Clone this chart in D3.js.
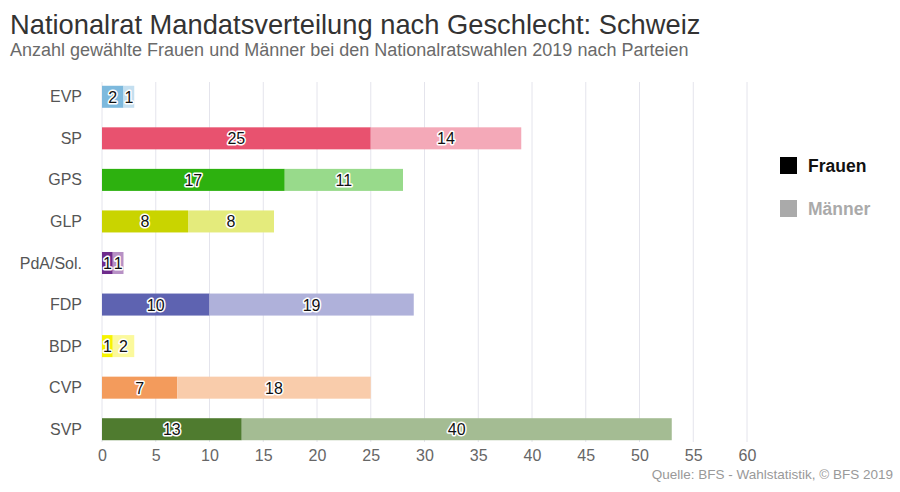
<!DOCTYPE html>
<html><head><meta charset="utf-8">
<script src="https://cdn.jsdelivr.net/npm/d3@7"></script>
<style>body{margin:0;background:#fff;}svg{display:block;font-family:"Liberation Sans",Arial,sans-serif;}</style>
</head><body>
<svg id="c" width="900" height="492"></svg>
<script>
const parties = ["EVP","SP","GPS","GLP","PdA/Sol.","FDP","BDP","CVP","SVP"];
const frauen  = [2,25,17,8,1,10,1,7,13];
const maenner = [1,14,11,8,1,19,2,18,40];
const colorsF = ["#7db9dd","#e8526f","#2db10f","#c9d400","#6e2b8b","#5e63b1","#f6f300","#f39b5c","#4f7b2f"];
const colorsM = ["#c4dff0","#f4a9b8","#98da8b","#e4eb7c","#b791c5","#afb1da","#fbf99c","#f9ccab","#a4bc93"];
const xTicks = [0,5,10,15,20,25,30,35,40,45,50,55,60];
const legendLabels = ["Frauen","Männer"];

const svg = d3.select("#c");
const x = d3.scaleLinear().domain([0,60]).range([102,747]);
const y = d3.scaleBand().domain(parties).range([76,450]).paddingInner(0.47).paddingOuter(0.235);

// title
svg.append("text").attr("x",10).attr("y",34).attr("font-size",27.3).attr("fill","#333")
  .text("Nationalrat Mandatsverteilung nach Geschlecht: Schweiz");
svg.append("text").attr("x",10).attr("y",56).attr("font-size",18).attr("fill","#6a6a6a")
  .text("Anzahl gewählte Frauen und Männer bei den Nationalratswahlen 2019 nach Parteien");

// grid
svg.append("g").selectAll("line").data(xTicks).join("line")
  .attr("x1",d=>x(d)).attr("x2",d=>x(d)).attr("y1",82).attr("y2",442)
  .attr("stroke","#e4e4ec").attr("stroke-width",1);

// bars
const rows = parties.map((p,i)=>({p,f:frauen[i],m:maenner[i],cf:colorsF[i],cm:colorsM[i]}));
const g = svg.append("g");
g.selectAll("rect.f").data(rows).join("rect").attr("class","f")
  .attr("x",x(0)).attr("y",d=>y(d.p)).attr("height",y.bandwidth())
  .attr("width",d=>x(d.f)-x(0)).attr("fill",d=>d.cf);
g.selectAll("rect.m").data(rows).join("rect").attr("class","m")
  .attr("x",d=>x(d.f)).attr("y",d=>y(d.p)).attr("height",y.bandwidth())
  .attr("width",d=>x(d.f+d.m)-x(d.f)).attr("fill",d=>d.cm);

// value labels
const labels = [];
rows.forEach(d=>{
  labels.push({v:d.f,cx:x(d.f/2),p:d.p});
  labels.push({v:d.m,cx:x(d.f+d.m/2),p:d.p});
});
const lab = svg.append("g").attr("font-size",16).attr("text-anchor","middle");
lab.selectAll("text.h").data(labels).join("text").attr("class","h")
  .attr("x",d=>d.cx).attr("y",d=>y(d.p)+y.bandwidth()/2+6)
  .attr("stroke","#fff").attr("stroke-width",3).attr("stroke-linejoin","round").attr("fill","#fff").text(d=>d.v);
lab.selectAll("text.t").data(labels).join("text").attr("class","t")
  .attr("x",d=>d.cx).attr("y",d=>y(d.p)+y.bandwidth()/2+6)
  .attr("fill","#111").text(d=>d.v);

// y axis labels
svg.append("g").selectAll("text").data(parties).join("text")
  .attr("x",82).attr("y",d=>y(d)+y.bandwidth()/2+5.5).attr("text-anchor","end")
  .attr("font-size",16).attr("fill","#555").text(d=>d);

// x axis
const xa = svg.append("g").attr("transform","translate(0,444)")
  .call(d3.axisBottom(x).tickValues(xTicks).tickSize(0).tickPadding(6));
xa.select(".domain").remove();
xa.selectAll("text").attr("font-size",16).attr("fill","#666").attr("font-family","Liberation Sans, Arial, sans-serif");

// legend
const lg = svg.append("g");
[["#000","#111"],["#aaa","#aaa"]].forEach((c,i)=>{
  lg.append("rect").attr("x",780).attr("y",157+i*43).attr("width",17).attr("height",17).attr("fill",c[0]);
  lg.append("text").attr("x",808).attr("y",172+i*43).attr("font-size",17.5).attr("font-weight","bold")
    .attr("fill",c[1]).text(legendLabels[i]);
});

// source
svg.append("text").attr("x",893).attr("y",479).attr("text-anchor","end").attr("font-size",13.5)
  .attr("fill","#999").text("Quelle: BFS - Wahlstatistik, © BFS 2019");
</script>
</body></html>
